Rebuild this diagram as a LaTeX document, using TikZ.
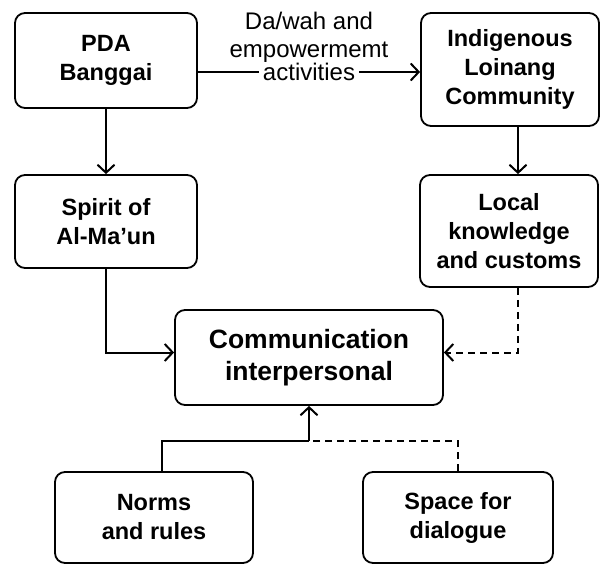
\documentclass[tikz,border=0pt]{standalone}
\usepackage{fontspec}
\setmainfont{Liberation Sans}
\usepackage{xcolor}
\usetikzlibrary{positioning, arrows.meta}

\begin{document}
\begin{tikzpicture}[
      x=1pt, y=1pt,
      % Styling nodes
      base/.style={
        draw,
        rectangle,
        rounded corners=10pt,
        line width=1.8pt,
        align=center,
        inner sep=4pt,
        font=\fontsize{23.5}{29}\selectfont\bfseries
      },
      sidenode/.style={base, minimum width=182pt},
      centernode/.style={base, minimum width=268pt, minimum height=95pt,
        font=\fontsize{26.5}{32}\selectfont\bfseries},
      bottomnode/.style={base, minimum height=91pt},
      lbl/.style={align=center, inner sep=1pt, font=\fontsize{24}{28}\selectfont},
      link/.style={line width=2pt},
      arrow/.style={link, -{Straight Barb[length=8pt, width=17pt, line width=2pt]}},
      dasharrow/.style={arrow, dash pattern=on 7pt off 5pt}
    ]
    \useasboundingbox (0,0) rectangle (603,-567);

    % Left column
    \node (pda) [sidenode, minimum height=95pt] at (106,-60.5) {PDA\\Banggai};
    \node (spirit) [sidenode, minimum height=93pt] at (106,-221.5) {Spirit of\\Al-Ma'un};

    % Right column
    \node (indig) [sidenode, minimum width=178pt, minimum height=113pt] at (510,-69.5) {Indigenous\\Loinang\\Community};
    \node (local) [sidenode, minimum width=178pt, minimum height=112pt] at (509,-231) {Local\\knowledge\\and customs};

    % Centre and bottom row
    \node (comm) [centernode] at (309,-357.5) {Communication\\interpersonal};
    \node (norms) [bottomnode, minimum width=198pt] at (154,-517.5) {Norms\\and rules};
    \node (space) [bottomnode, minimum width=190pt] at (458,-517.5) {Space for\\dialogue};

    \coordinate (join) at (comm.south |- 0,-441);

    % Arrows
    % Top row (label sits on the line)
    \draw[arrow] ([yshift=-11.5pt]pda.east) -- node[lbl, fill=white, inner xsep=4pt] (act) {activities} ([yshift=-2.5pt]indig.west);
    \node (dawah) [lbl, above=-2pt of act] {Da/wah and\\empowermemt};

    % Columns down
    \draw[arrow] (pda) -- (spirit);
    \draw[arrow] ([xshift=8pt]indig.south) -- ([xshift=9pt]local.north);

    % Into the centre
    \draw[arrow] (spirit.south) |- ([yshift=5pt]comm.west);
    \draw[dasharrow] ([xshift=9pt]local.south) |- ([yshift=5pt]comm.east);

    % Bottom row up to the centre
    \draw[link] ([xshift=8pt]norms.north) |- (join);
    \draw[link, dash pattern=on 7pt off 5pt] (space.north) |- (join);
    \draw[arrow] (join) -- (comm.south);

  \end{tikzpicture}
\end{document}
